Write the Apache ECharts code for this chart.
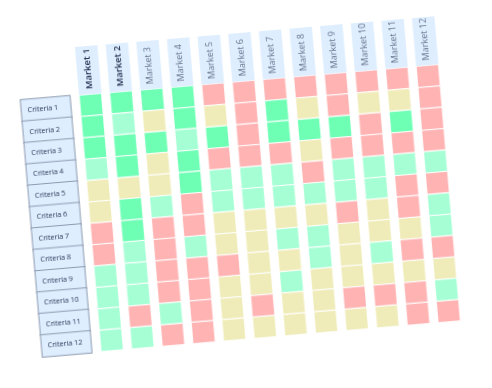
<!DOCTYPE html>
<html>
<head>
<meta charset="utf-8">
<script src="https://cdn.jsdelivr.net/npm/echarts@6/dist/echarts.min.js"></script>
<style>
html,body{margin:0;padding:0;background:#fff;overflow:hidden;}
#chart{width:492px;height:388px;transform:rotate(-4.9deg);transform-origin:50% 50%;}
</style>
</head>
<body>
<div id="chart"></div>
<script>
// Categories
const markets = ['Market 1','Market 2','Market 3','Market 4','Market 5','Market 6','Market 7','Market 8','Market 9','Market 10','Market 11','Market 12'];
const criteria = ['Criteria 1','Criteria 2','Criteria 3','Criteria 4','Criteria 5','Criteria 6','Criteria 7','Criteria 8','Criteria 9','Criteria 10','Criteria 11','Criteria 12'];
// Ratings per market, Criteria 1..12 (4 = strong, 3 = good, 2 = neutral, 1 = weak)
const market1  = [4,4,4,3,2,2,1,1,3,3,3,3];
const market2  = [4,3,4,4,2,4,4,3,3,3,1,3];
const market3  = [4,2,4,2,2,3,1,1,1,1,3,1];
const market4  = [4,4,3,4,4,1,1,3,1,1,1,1];
const market5  = [1,2,4,1,3,3,2,2,1,2,2,2];
const market6  = [1,1,1,1,3,3,2,2,2,2,1,2];
const market7  = [1,4,4,1,3,3,2,3,2,3,2,2];
const market8  = [1,2,4,2,1,3,2,3,3,2,2,2];
const market9  = [1,1,4,1,3,3,1,2,2,2,1,2];
const market10 = [1,2,1,1,3,3,2,2,3,2,1,2];
const market11 = [1,2,4,1,3,1,1,2,1,2,1,1];
const market12 = [1,1,1,1,3,1,3,3,1,2,3,1];
const ratings = [market1,market2,market3,market4,market5,market6,market7,market8,market9,market10,market11,market12];

const palette = {1:'#ffb3b3', 2:'#f0ecb9', 3:'#a6ffd4', 4:'#6effb5'};

const data = [];
ratings.forEach((col, mi) => col.forEach((v, ci) => data.push([mi, ci, v])));
const headerData = markets.map((m, i) => [i, 0]);

const chart = echarts.init(document.getElementById('chart'), null, {renderer:'canvas'});
chart.setOption({
  animation: false,
  grid: {left: 84, right: 39, top: 81.3, bottom: 49.3},
  xAxis: {
    type: 'category', data: markets,
    axisLine: {show:false}, axisTick: {show:false}, splitLine: {show:false},
    axisLabel: {show: false}
  },
  yAxis: {
    type: 'category', data: criteria, inverse: true,
    axisLine: {show:false}, axisTick: {show:false}, splitLine: {show:false},
    axisLabel: {
      interval: 0, margin: 54.4, align: 'left', verticalAlign: 'middle',
      width: 43, height: 21.45, lineHeight: 21.45, padding: [0,0,0,6],
      backgroundColor: '#deeeff', borderColor: '#8d9bb0', borderWidth: 1,
      color: '#2a3654', fontFamily: 'Open Sans', fontSize: 7.2
    }
  },
  series: [{
    type: 'custom',
    data: data,
    renderItem: function (params, api) {
      const c = api.coord([api.value(0), api.value(1)]);
      const s = api.size([1, 1]);
      const w = s[0] * 0.732;
      return {
        type: 'rect',
        shape: {x: c[0] - w/2, y: c[1] - s[1]/2, width: w, height: s[1]},
        style: {fill: palette[api.value(2)], stroke: '#ffffff', lineWidth: 1}
      };
    }
  }, {
    type: 'custom',
    data: headerData,
    clip: false,
    renderItem: function (params, api) {
      const i = api.value(0);
      const c = api.coord([i, 0]);
      const s = api.size([1, 1]);
      const w = s[0] * 0.732;
      const top = c[1] - s[1] / 2;
      const h = 48.4;
      const dark = i < 2;
      return {
        type: 'group',
        children: [{
          type: 'rect',
          shape: {x: c[0] - w/2, y: top - h, width: w, height: h},
          style: {fill: '#deeeff'}
        }, {
          type: 'text',
          x: c[0], y: top - 5, rotation: Math.PI / 2,
          style: {
            text: markets[i], align: 'left', verticalAlign: 'middle',
            fill: dark ? '#1c2a4a' : '#66758c',
            fontFamily: 'Open Sans', fontSize: dark ? 9.5 : 9, fontWeight: dark ? 600 : 400
          }
        }]
      };
    }
  }]
});
</script>
</body>
</html>
